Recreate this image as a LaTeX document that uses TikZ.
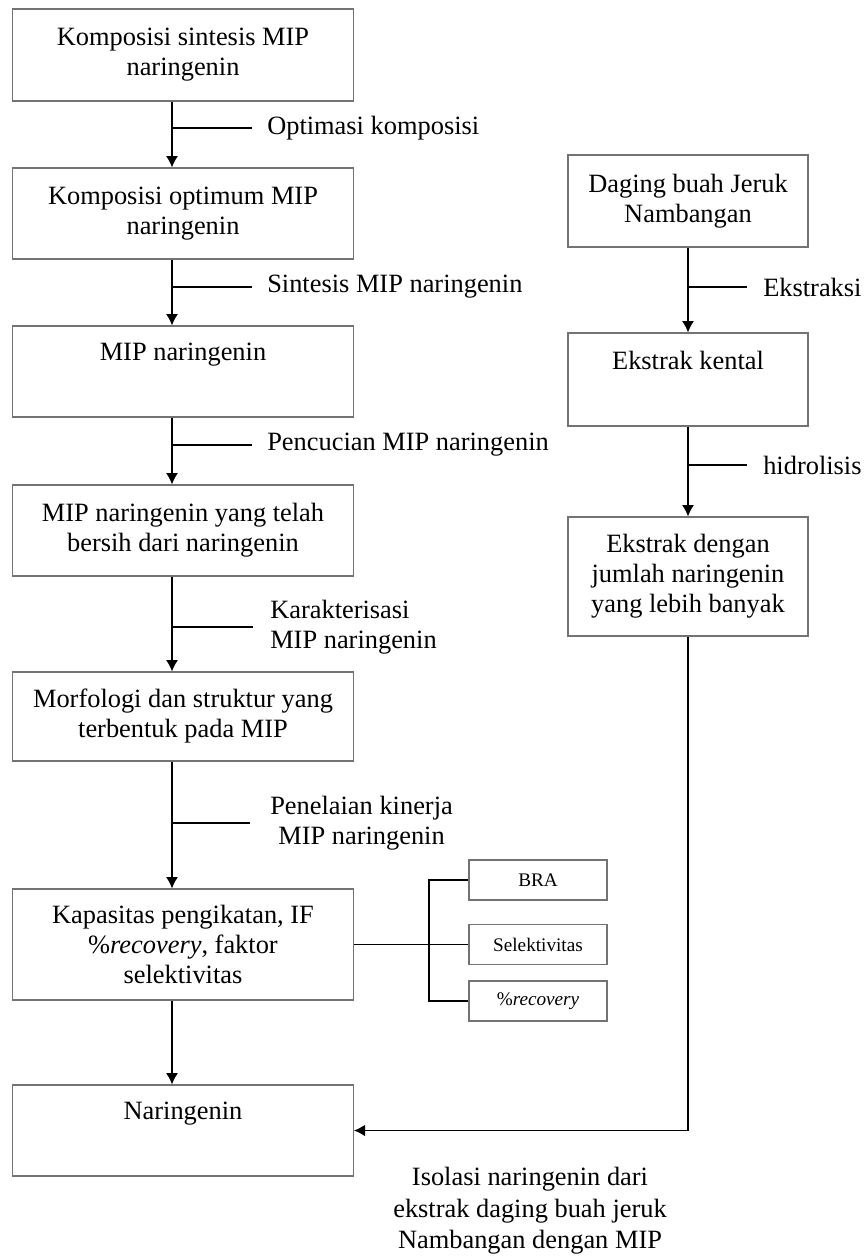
\documentclass[tikz,border=0pt]{standalone}
\usepackage{fontspec}
\setmainfont{Liberation Serif}
\usetikzlibrary{arrows.meta}
\tikzset{
  kotak/.style={draw=black!55, line width=0.8pt, minimum width=255.5pt, minimum height=68.25pt,
    align=center, inner sep=0pt, font=\fontsize{19.8}{22.5}\selectfont},
  kotakkanan/.style={kotak, minimum width=180pt},
  kecil/.style={draw=black!55, line width=0.8pt, minimum width=103.5pt, minimum height=30pt,
    inner sep=0pt, font=\fontsize{14.4}{17}\selectfont},
  ket/.style={anchor=west, inner sep=0pt, font=\fontsize{19.8}{22.5}\selectfont},
  panah/.style={->, >={Latex[length=8.5pt, width=9pt]}, line width=1.1pt},
  cabang/.style={line width=0.9pt},
}
\begin{document}
\begin{tikzpicture}[x=0.75pt, y=-0.75pt]
\useasboundingbox (0,0) rectangle (865,1256);
\coordinate (c) at (172,0);
\coordinate (j) at (429,0);

% kolom kiri
\node[kotak, minimum height=69pt] (b1) at (183,55) {Komposisi sintesis MIP\\naringenin};
\node[kotak] (b2) at (183,213.5) {Komposisi optimum MIP\\naringenin};
\node[kotak] (b3) at (183,371.5) {MIP naringenin\\\strut};
\node[kotak] (b4) at (183,530.5) {MIP naringenin yang telah\\bersih dari naringenin};
\node[kotak, minimum height=66.75pt] (b5) at (183,716.5) {Morfologi dan struktur yang\\terbentuk pada MIP};
\node[kotak, minimum height=83.25pt] (b6) at (183,944.5) {Kapasitas pengikatan, IF\\\%\textit{recovery}, faktor\\selektivitas};
\node[kotak] (b7) at (183,1130.5) {Naringenin\\\strut};

\node[ket] (l1) at (267,128) {Optimasi komposisi};
\node[ket] (l2) at (267,287) {Sintesis MIP naringenin};
\node[ket] (l3) at (267,445) {Pencucian MIP naringenin};
\node[ket, align=left] (l4) at (270,627) {Karakterisasi\\MIP naringenin};
\node[ket, align=center] (l5) at (270,823) {Penelaian kinerja\\MIP naringenin};

\draw[panah] (b1.south -| c) -- (b2.north -| c);
\draw[panah] (b2.south -| c) -- (b3.north -| c);
\draw[panah] (b3.south -| c) -- (b4.north -| c);
\draw[panah] (b4.south -| c) -- (b5.north -| c);
\draw[panah] (b5.south -| c) -- (b6.north -| c);
\draw[panah] (b6.south -| c) -- (b7.north -| c);
\draw[cabang] (l1.west -| c) -- ([xshift=-11.25pt]l1.west);
\draw[cabang] (l2.west -| c) -- ([xshift=-11.25pt]l2.west);
\draw[cabang] (l3.west -| c) -- ([xshift=-11.25pt]l3.west);
\draw[cabang] (l4.west -| c) -- ([xshift=-13pt]l4.west);
\draw[cabang] (l5.west -| c) -- ([xshift=-15pt]l5.west);

% parameter kinerja
\node[kecil] (s1) at (538,880) {BRA};
\node[kecil] (s2) at (538,944.5) {Selektivitas};
\node[kecil] (s3) at (538,1001) {\%\textit{recovery}};
\draw[cabang] (b6.east) -- (s2.west);
\draw[cabang] (s1.west) -| (s3.west -| j) -- (s3.west);

% kolom kanan
\node[kotakkanan, minimum height=69pt] (r1) at (688,201) {Daging buah Jeruk\\Nambangan};
\node[kotakkanan, minimum height=69.75pt] (r2) at (688,379.5) {Ekstrak kental\\\strut};
\node[kotakkanan, minimum height=89.25pt] (r3) at (688,576.5) {Ekstrak dengan\\jumlah naringenin\\yang lebih banyak};

\node[ket] (k1) at (763,287) {Ekstraksi};
\node[ket] (k2) at (763,465) {hidrolisis};

\draw[panah] (r1) -- (r2);
\draw[panah] (r2) -- (r3);
\draw[cabang] (k1.west -| r1) -- ([xshift=-12pt]k1.west);
\draw[cabang] (k2.west -| r2) -- ([xshift=-12pt]k2.west);
\draw[panah, line width=1.4pt] (r3.south) |- (b7.east);

\node[font=\fontsize{19.8}{23.5}\selectfont, align=center, inner sep=0pt] (judul) at (530,1211)
  {Isolasi naringenin dari\\ekstrak daging buah jeruk\\Nambangan dengan MIP};
\end{tikzpicture}
\end{document}
